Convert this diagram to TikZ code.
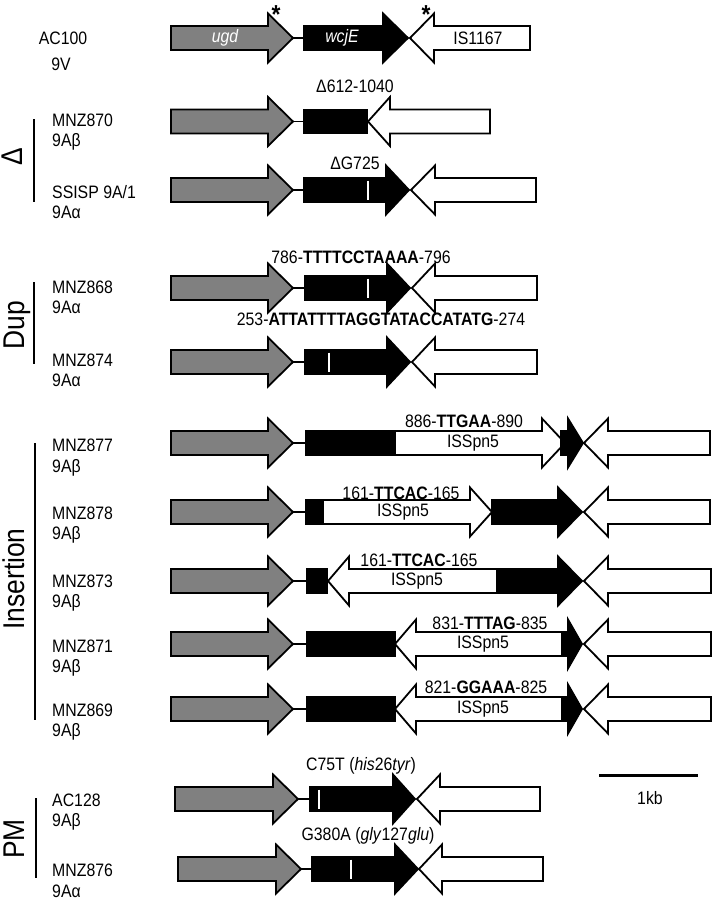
\documentclass[tikz,border=0pt]{standalone}
\usepackage{fontspec}
\setmainfont{Liberation Sans}[FakeStretch=0.88]
\usetikzlibrary{positioning}

\definecolor{ugdgray}{RGB}{128,128,128}
\newcommand{\gbh}{12}
\newcommand{\ghh}{24.5}
% right gene: start, head base, tip, y, fill
\newcommand{\rgene}[5]{\draw[gene,fill=#5] (#1,#4-\gbh) -- (#2,#4-\gbh) -- (#2,#4-\ghh) -- (#3,#4) -- (#2,#4+\ghh) -- (#2,#4+\gbh) -- (#1,#4+\gbh) -- cycle;}
% left gene: tip, head base, end, y, fill
\newcommand{\lgene}[5]{\draw[gene,fill=#5] (#1,#4) -- (#2,#4-\ghh) -- (#2,#4-\gbh) -- (#3,#4-\gbh) -- (#3,#4+\gbh) -- (#2,#4+\gbh) -- (#2,#4+\ghh) -- cycle;}
\newcommand{\gbox}[3]{\draw[gene,fill=black] (#1,#3-\gbh) rectangle (#2,#3+\gbh);}
\newcommand{\snp}[2]{\draw[white,line width=2.5pt] (#1,#2-9.5) -- (#1,#2+9.5);}

\begin{document}
\begin{tikzpicture}[x=1pt,y=-1pt,
gene/.style={draw=black,line width=1.8pt,line join=miter},
link/.style={line width=1.8pt},
lbl/.style={font=\fontsize{18}{20.5}\selectfont,inner sep=0pt},
strain/.style={lbl,align=left,anchor=west},
star/.style={font=\fontsize{26}{26}\selectfont\bfseries,inner sep=0pt,anchor=base},
group/.style={font=\fontsize{30}{30}\selectfont,rotate=90,inner sep=0pt,anchor=base},
bracket/.style={line width=2.5pt}]

\useasboundingbox (0,0) rectangle (714,900);

% links between ugd and wcjE
\foreach \y/\a/\b in {38/288/306, 121.5/288/306, 190/288/306, 288/288/306, 362/288/306,
443/288/307, 512/288/307, 581/288/308, 644/288/308, 709/288/308, 799/294/311, 869/296/313} {
\draw[link] (\a,\y) -- (\b,\y);
}

% ugd
\foreach \y in {38, 121.5, 190, 288, 362, 443, 512, 581, 644, 709} {
\rgene{171}{268}{293}{\y}{ugdgray}
}
\rgene{175}{273}{298}{799}{ugdgray}
\rgene{178}{276}{301}{869}{ugdgray}

% AC100
\rgene{304}{383}{408}{38}{black}
\lgene{410}{434}{530}{38}{white}
\node[lbl,white,font=\fontsize{18}{20.5}\selectfont\itshape] (ugd) at (225,38) {ugd};
\node[lbl,white,font=\fontsize{18}{20.5}\selectfont\itshape] (wcjE) at (342,38) {wcjE};
\node[lbl] (is1167) at (478,38) {IS1167};
\node[star] (ast1) at (276,23) {*};
\node[star] (ast2) at (426,23) {*};

% MNZ870
\gbox{304}{367}{121.5}
\lgene{368}{390}{490}{121.5}{white}
\node[lbl] (del1) at (355,86) {Δ612-1040};

% SSISP 9A/1
\rgene{304}{386}{409}{190}{black}
\snp{368}{190}
\lgene{411}{435}{536}{190}{white}
\node[lbl] (del2) at (355,163) {ΔG725};

% MNZ868
\rgene{305}{387}{410}{288}{black}
\snp{368}{288}
\lgene{412}{435}{537}{288}{white}
\node[lbl] (dup1) at (361,257) {786-\textbf{TTTTCCTAAAA}-796};

% MNZ874
\rgene{305}{387}{410}{362}{black}
\snp{329}{362}
\lgene{412}{435}{537}{362}{white}
\node[lbl] (dup2) at (381,319) {253-\textbf{ATTATTTTAGGTATACCATATG}-274};

% MNZ877
\gbox{306}{395}{443}
\rgene{395}{542}{565}{443}{white}
\rgene{561}{568}{583}{443}{black}
\lgene{584}{608}{710}{443}{white}
\node[lbl] (ins1) at (464,421) {886-\textbf{TTGAA}-890};
\node[lbl] (is1) at (473,443) {ISSpn5};

% MNZ878
\gbox{306}{323}{512}
\rgene{323}{470}{492}{512}{white}
\rgene{492}{558}{582}{512}{black}
\lgene{584}{608}{710}{512}{white}
\node[lbl] (ins2) at (401,493) {161-\textbf{TTCAC}-165};
\node[lbl] (is2) at (403,512) {ISSpn5};

% MNZ873
\gbox{307}{327}{581}
\lgene{328}{349}{497}{581}{white}
\rgene{497}{558}{582}{581}{black}
\lgene{584}{608}{711}{581}{white}
\node[lbl] (ins3) at (419,560) {161-\textbf{TTCAC}-165};
\node[lbl] (is3) at (417,581) {ISSpn5};

% MNZ871, MNZ869
\foreach \y in {644, 709} {
\gbox{307}{395}{\y}
\lgene{395}{416}{562}{\y}{white}
\rgene{562}{568}{582}{\y}{black}
\lgene{584}{608}{711}{\y}{white}
}
\node[lbl] (ins4) at (490,623) {831-\textbf{TTTAG}-835};
\node[lbl] (is4) at (483,644) {ISSpn5};
\node[lbl] (ins5) at (486,687) {821-\textbf{GGAAA}-825};
\node[lbl] (is5) at (483,709) {ISSpn5};

% AC128
\rgene{310}{393}{415}{799}{black}
\snp{319}{799}
\lgene{417}{440}{540}{799}{white}
\node[lbl] (pm1) at (361,766) {C75T (\textit{his}26\textit{tyr})};

% MNZ876
\rgene{312}{395}{418}{869}{black}
\snp{351}{869}
\lgene{419}{442}{543}{869}{white}
\node[lbl] (pm2) at (368,836) {G380A (\textit{gly}127\textit{glu})};

% strains
\node[lbl] (ac100) at (63,38) {AC100};
\node[lbl] (ac100s) at (61,64) {9V};
\foreach \y/\name/\sero [count=\i] in {132/MNZ870/9Aβ, 202/{SSISP 9A/1}/9Aα, 297.5/MNZ868/9Aα,
370.5/MNZ874/9Aα, 457.5/MNZ877/9Aβ, 525/MNZ878/9Aβ, 593/MNZ873/9Aβ, 658/MNZ871/9Aβ,
722/MNZ869/9Aβ, 812/AC128/9Aβ, 881/MNZ876/9Aα} {
\node[strain] (s\i) at (52,\y) {\name\\\sero};
}

% groups
\draw[bracket] (34,119) -- (34,202);
\node[group] (gdel) at (23,157) {Δ};
\draw[bracket] (34,282) -- (34,364);
\node[group] (gdup) at (24,325) {Dup};
\draw[bracket] (35,443) -- (35,720);
\node[group] (gins) at (24,579) {Insertion};
\draw[bracket] (36,798) -- (36,878);
\node[group] (gpm) at (24,839) {PM};

% scale
\draw[line width=3pt] (599,775) -- (698,775);
\node[lbl] (kb) at (650,798) {1kb};

\end{tikzpicture}
\end{document}
